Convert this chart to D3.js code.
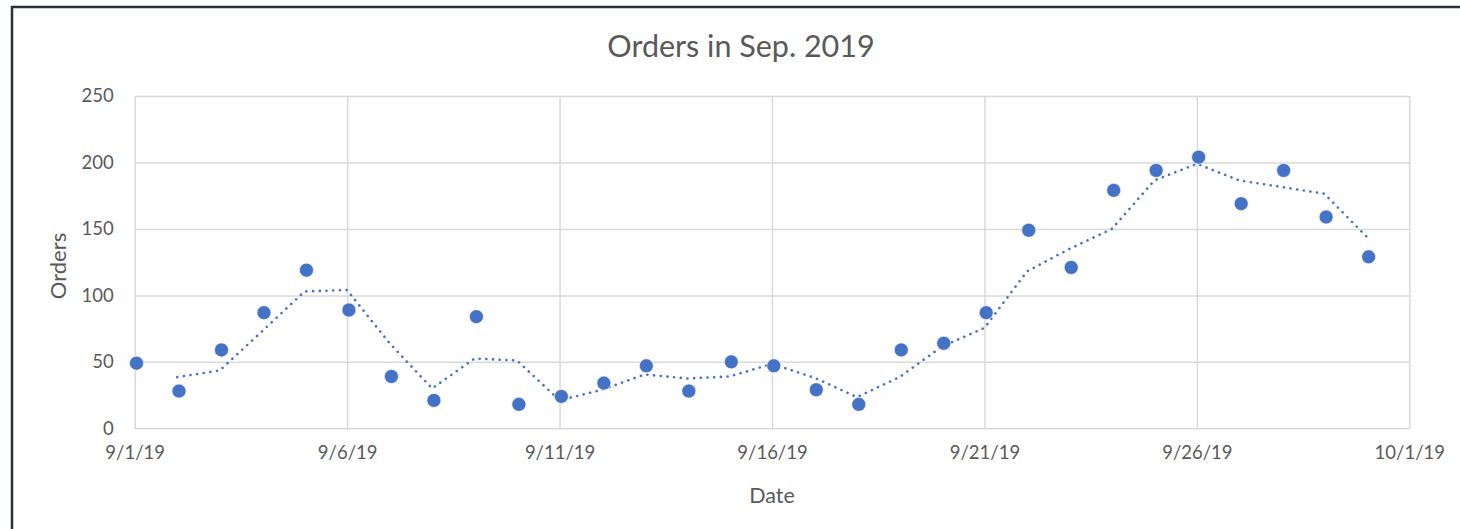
<!DOCTYPE html>
<meta charset="utf-8">

<!-- Load d3.js -->
<script src="https://d3js.org/d3.v7.min.js"></script>

<style>
    body { margin: 0; background: #fff; }
    text { font-family: Lato, "Open Sans", sans-serif; fill: #595959; }
</style>

<!-- Create a div where the graph will take place -->
<div id="my_dataviz"></div>

<script>

    // ---------------------------//
    //       DATA                 //
    // ---------------------------//

    // one value per day, 9/1/19 .. 9/30/19
    var dates = ["2019-09-01", "2019-09-02", "2019-09-03", "2019-09-04", "2019-09-05", "2019-09-06",
        "2019-09-07", "2019-09-08", "2019-09-09", "2019-09-10", "2019-09-11", "2019-09-12",
        "2019-09-13", "2019-09-14", "2019-09-15", "2019-09-16", "2019-09-17", "2019-09-18",
        "2019-09-19", "2019-09-20", "2019-09-21", "2019-09-22", "2019-09-23", "2019-09-24",
        "2019-09-25", "2019-09-26", "2019-09-27", "2019-09-28", "2019-09-29", "2019-09-30"]
    var orders = [49, 28, 59, 87, 119, 89, 39, 21, 84, 18, 24, 34, 47, 28, 50,
        47, 29, 18, 59, 64, 87, 149, 121, 179, 194, 204, 169, 194, 159, 129]

    // dotted trend line (2 day moving average), read from 9/2/19 on
    var trendDates = dates.slice(1)
    var trend = [38.5, 43.5, 73, 103, 104, 64, 30, 52.5, 51, 21, 29, 40.5, 37.5, 39,
        48.5, 38, 23.5, 38.5, 61.5, 75.5, 118, 135, 150, 186.5, 199, 186.5, 181.5, 176.5, 144]

    // axis ticks
    var xTicks = ["2019-09-01", "2019-09-06", "2019-09-11", "2019-09-16", "2019-09-21", "2019-09-26", "2019-10-01"]
    var yTicks = [0, 50, 100, 150, 200, 250]

    var parseDate = d3.timeParse("%Y-%m-%d")
    var fmtDate = d3.timeFormat("%-m/%-d/%y")

    // set the dimensions and margins of the graph
    var W = 1460, H = 529
    var plot = { left: 134.7, right: 1409.3, top: 96, bottom: 428.3 }

    // append the svg object to the body of the page
    var svg = d3.select("#my_dataviz")
        .append("svg")
        .attr("width", W)
        .attr("height", H)

    // frame around the chart (left and top edges only)
    svg.append("path")
        .attr("d", "M12," + H + "V7H" + W)
        .attr("fill", "none")
        .attr("stroke", "#27303d")
        .attr("stroke-width", 2.5)

    // ---------------------------//
    //       AXIS  AND SCALE      //
    // ---------------------------//

    var x = d3.scaleTime()
        .domain([parseDate("2019-09-01"), parseDate("2019-10-01")])
        .range([plot.left, plot.right])

    var y = d3.scaleLinear()
        .domain([0, 250])
        .range([plot.bottom, plot.top])

    // horizontal gridlines
    svg.append("g")
        .attr("transform", "translate(" + plot.left + ",0)")
        .call(d3.axisLeft(y).tickValues(yTicks).tickSize(-(plot.right - plot.left)).tickFormat(""))
        .call(function (g) { g.select(".domain").remove() })
        .selectAll("line")
        .attr("stroke", "#d9d9d9")
        .attr("stroke-width", 1.5)

    // vertical gridlines
    svg.append("g")
        .attr("transform", "translate(0," + plot.bottom + ")")
        .call(d3.axisBottom(x).tickValues(xTicks.map(parseDate)).tickSize(-(plot.bottom - plot.top)).tickFormat(""))
        .call(function (g) { g.select(".domain").remove() })
        .selectAll("line")
        .attr("stroke", "#d9d9d9")
        .attr("stroke-width", 1.5)

    // Y tick labels
    var yAxis = svg.append("g")
        .attr("transform", "translate(" + plot.left + ",0)")
        .call(d3.axisLeft(y).tickValues(yTicks).tickSize(0).tickPadding(21))
    yAxis.select(".domain").remove()
    yAxis.selectAll("text")
        .style("font-size", "18.5px")
        .style("font-family", "Lato, sans-serif")
        .attr("fill", "#595959")

    // X tick labels
    var xAxis = svg.append("g")
        .attr("transform", "translate(0," + plot.bottom + ")")
        .call(d3.axisBottom(x).tickValues(xTicks.map(parseDate)).tickFormat(fmtDate).tickSize(0).tickPadding(18))
    xAxis.select(".domain").remove()
    xAxis.selectAll("text")
        .style("font-size", "18.5px")
        .style("font-family", "Lato, sans-serif")
        .attr("fill", "#595959")

    // Title
    svg.append("text")
        .attr("x", 741)
        .attr("y", 57)
        .attr("text-anchor", "middle")
        .style("font-size", "30.5px")
        .text("Orders in Sep. 2019")

    // X axis label
    svg.append("text")
        .attr("x", 772)
        .attr("y", 503)
        .attr("text-anchor", "middle")
        .style("font-size", "21.5px")
        .text("Date")

    // Y axis label
    svg.append("text")
        .attr("transform", "translate(66,266) rotate(-90)")
        .attr("text-anchor", "middle")
        .style("font-size", "22px")
        .text("Orders")

    // ---------------------------//
    //       TREND AND DOTS       //
    // ---------------------------//

    var line = d3.line()
        .x(function (d, i) { return x(parseDate(trendDates[i])) })
        .y(function (d) { return y(d) })

    svg.append("path")
        .datum(trend)
        .attr("d", line)
        .attr("fill", "none")
        .attr("stroke", "#4472C4")
        .attr("stroke-width", 2.6)
        .attr("stroke-linecap", "round")
        .attr("stroke-dasharray", "0.1,6.6")

    // markers sit a hair right of their date in the original
    var dotShift = 1.8
    svg.append("g")
        .selectAll("circle")
        .data(orders)
        .enter()
        .append("circle")
        .attr("cx", function (d, i) { return x(parseDate(dates[i])) + dotShift })
        .attr("cy", function (d) { return y(d) })
        .attr("r", 7)
        .style("fill", "#4472C4")
        .attr("stroke", "#fff")
        .attr("stroke-width", 0.6)

</script>
